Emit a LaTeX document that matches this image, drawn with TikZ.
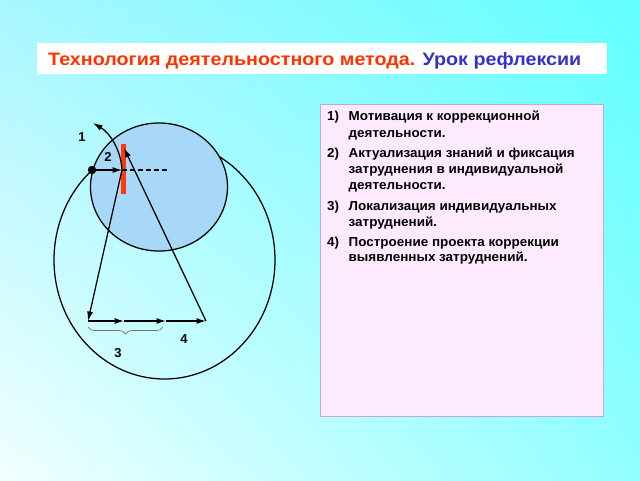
\documentclass[tikz,border=0pt]{standalone}
\usepackage{fontspec}
\setmainfont{Liberation Sans}
\usetikzlibrary{arrows.meta,decorations.pathreplacing,shadings}
\definecolor{bgUL}{HTML}{A8F6FF}
\definecolor{bgUR}{HTML}{62FFFF}
\definecolor{bgLL}{HTML}{F2FFFF}
\definecolor{bgLR}{HTML}{92FEFF}
\definecolor{titlered}{HTML}{FF3300}
\definecolor{titleblue}{HTML}{3333CC}
\definecolor{listfill}{HTML}{FDEBFD}
\definecolor{listborder}{HTML}{C8A6DA}
\definecolor{circfill}{HTML}{A8D8F8}
\definecolor{barred}{HTML}{FF3A0A}
\tikzset{
  conn/.style={line width=1.25pt, -{Latex[length=9.5pt,width=6pt]}},
  plain/.style={line width=1.25pt},
  numlabel/.style={font=\bfseries\fontsize{13}{15}\selectfont, inner sep=0pt},
  listline/.style={anchor=base west, inner sep=0pt, font=\bfseries\fontsize{13}{16}\selectfont\addfontfeature{FakeStretch=1.035}},
}
\begin{document}
\begin{tikzpicture}[x=1pt,y=-1pt]
\useasboundingbox (0,0) rectangle (640,480);
\shade[upper left=bgUL, upper right=bgUR, lower left=bgLL, lower right=bgLR] (0,0) rectangle (640,480);
% title
\fill[white] (37,43) rectangle (607,73.5);
\node[anchor=base west, inner sep=0pt, font=\bfseries\fontsize{18}{20}\selectfont\addfontfeature{FakeStretch=1.095}] (title) at (48,65)
  {\textcolor{titlered}{Технология деятельностного метода.} \textcolor{titleblue}{Урок рефлексии}};
% list box
\draw[fill=listfill, draw=listborder, line width=0.8pt] (320,104) rectangle (603,416);
\node[listline] (n1) at (327,120.3) {1)};
\node[listline] (l1) at (348.5,120.3) {Мотивация к коррекционной};
\node[listline] (l2) at (348.5,137.2) {деятельности.};
\node[listline] (n2) at (327,157.6) {2)};
\node[listline] (l3) at (348.5,157.6) {Актуализация знаний и фиксация};
\node[listline] (l4) at (348.5,173.6) {затруднения в индивидуальной};
\node[listline] (l5) at (348.5,189.4) {деятельности.};
\node[listline] (n3) at (327,210.3) {3)};
\node[listline] (l6) at (348.5,210.3) {Локализация индивидуальных};
\node[listline] (l7) at (348.5,226) {затруднений.};
\node[listline] (n4) at (327,246) {4)};
\node[listline] (l8) at (348.5,246) {Построение проекта коррекции};
\node[listline] (l9) at (348.5,261.2) {выявленных затруднений.};
% circles
\draw[plain] (164.5,260) ellipse [x radius=110.5, y radius=119];
\draw[plain, fill=circfill] (159,187) ellipse [x radius=68.5, y radius=64];
% key points
\coordinate (P) at (92,170);
\coordinate (Q) at (122,170);
\coordinate (D) at (167,170);
\coordinate (A) at (88,321);
\coordinate (B) at (124,321);
\coordinate (C) at (166,321);
\coordinate (E) at (206,321);
\coordinate (T) at (124,148);
\coordinate (K) at (93,123);
\coordinate (R1) at (123.5,144);
\coordinate (R2) at (123.5,194);
% red bar
\draw[barred, line width=4.2pt] (R1) -- (R2);
% arrows
\draw[conn] (P) -- (Q);
\draw[plain, dashed, dash pattern=on 5pt off 3pt] (Q) -- (D);
\draw[conn] (Q) .. controls (121,150) and (110,133) .. (K);
\draw[conn] (Q) -- (A);
\draw[conn] (A) -- (B);
\draw[conn] (B) -- (C);
\draw[conn] (C) -- (E);
\draw[conn] (E) -- (T);
\fill (P) circle (4.2pt);
% brace
\draw[black!55, line width=0.7pt, decorate, decoration={brace, mirror, amplitude=7pt}] (88,327) -- (163,327);
% labels
\node[numlabel] (lab1) at (82,137) {1};
\node[numlabel] (lab2) at (108,157) {2};
\node[numlabel] (lab3) at (118,353) {3};
\node[numlabel] (lab4) at (184,339) {4};
\end{tikzpicture}
\end{document}
